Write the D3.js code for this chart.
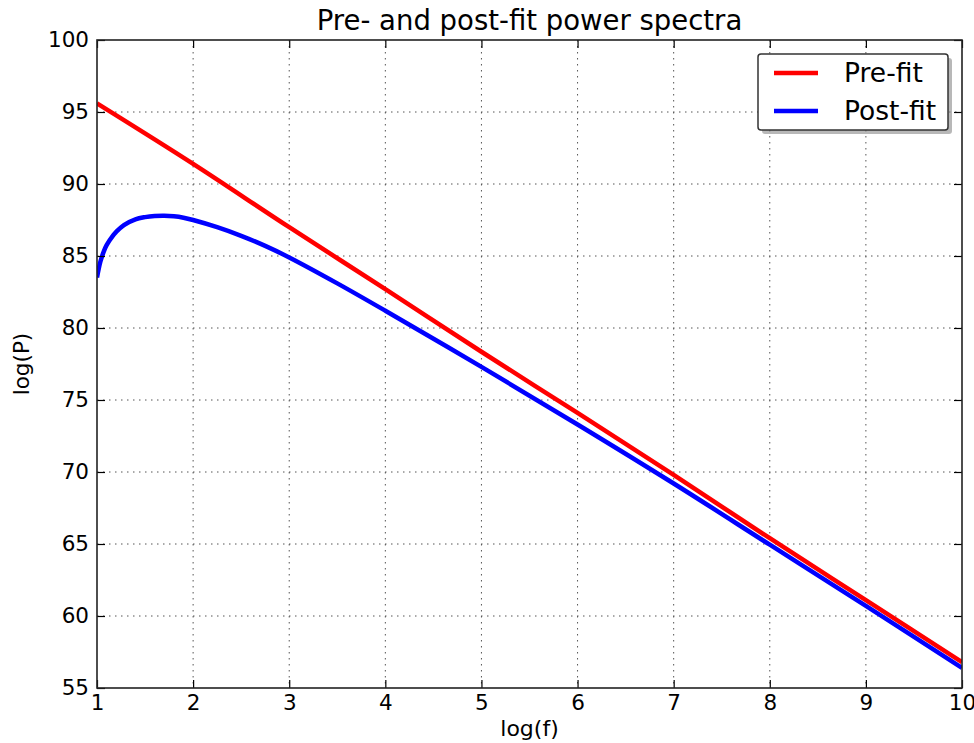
<!DOCTYPE html>
<html>
<head>
<meta charset="utf-8">
<script src="https://cdn.jsdelivr.net/npm/d3@7"></script>
<style>
  body { margin: 0; background: #fff; }
  text { font-family: "DejaVu Sans", sans-serif; fill: #000; }
</style>
</head>
<body>
<svg id="chart"></svg>
<script>
// values
const preF = [1, 2, 3, 4, 5, 6, 7, 8, 9, 10];
const preP = [95.6, 91.4, 87.0, 82.7, 78.35, 74.1, 69.8, 65.4, 61.1, 56.8];

const postF = [1.0, 1.035, 1.07, 1.1, 1.17, 1.2, 1.28, 1.4, 1.5, 1.6, 1.7, 1.8, 1.9, 2.0, 2.25, 2.5, 2.75, 3.0, 3.5, 4.0, 5.0, 6.0, 7.0, 8.0, 9.0, 10.0];
const postP = [83.5, 84.6, 85.3, 85.75, 86.45, 86.68, 87.15, 87.55, 87.7, 87.78, 87.8, 87.76, 87.66, 87.5, 87.0, 86.4, 85.7, 84.9, 83.1, 81.2, 77.3, 73.3, 69.2, 64.95, 60.7, 56.4];

const xTicks = [1, 2, 3, 4, 5, 6, 7, 8, 9, 10];
const yTicks = [55, 60, 65, 70, 75, 80, 85, 90, 95, 100];

const seriesNames = ["Pre-fit", "Post-fit"];
const seriesColors = ["#ff0000", "#0000ff"];

const width = 974;
const height = 743;
const margin = { top: 40, right: 12, bottom: 55, left: 97 };

const svg = d3.select("#chart")
    .attr("width", width)
    .attr("height", height);

const x = d3.scaleLinear().domain([1, 10]).range([margin.left, width - margin.right]);
const y = d3.scaleLinear().domain([55, 100]).range([height - margin.bottom, margin.top]);

const plotW = x(10) - x(1);
const plotH = y(55) - y(100);

// grid
const grid = svg.append("g").attr("class", "grid");
grid.selectAll(".gx")
    .data(xTicks.slice(1, -1))
    .enter()
    .append("line")
    .attr("x1", d => x(d)).attr("x2", d => x(d))
    .attr("y1", y(100)).attr("y2", y(55))
    .attr("stroke", "#555")
    .attr("stroke-width", 1)
    .attr("stroke-dasharray", "1.5,4.5");
grid.selectAll(".gy")
    .data(yTicks.slice(1, -1))
    .enter()
    .append("line")
    .attr("x1", x(1)).attr("x2", x(10))
    .attr("y1", d => y(d)).attr("y2", d => y(d))
    .attr("stroke", "#555")
    .attr("stroke-width", 1)
    .attr("stroke-dasharray", "1.5,4.5");

// lines
const line = d3.line()
    .x(d => x(d[0]))
    .y(d => y(d[1]))
    .curve(d3.curveCatmullRom.alpha(0.5));

svg.append("clipPath").attr("id", "clip")
    .append("rect")
    .attr("x", x(1)).attr("y", y(100))
    .attr("width", plotW).attr("height", plotH);

const plot = svg.append("g").attr("clip-path", "url(#clip)");

plot.append("path")
    .datum(d3.zip(preF, preP))
    .attr("fill", "none")
    .attr("stroke", seriesColors[0])
    .attr("stroke-width", 4.5)
    .attr("d", line);

plot.append("path")
    .datum(d3.zip(postF, postP))
    .attr("fill", "none")
    .attr("stroke", seriesColors[1])
    .attr("stroke-width", 4.5)
    .attr("d", line);

// axes (ticks inside, on all four sides)
const tickLen = 8;
svg.append("g")
    .attr("transform", `translate(0,${y(55)})`)
    .call(d3.axisBottom(x).tickValues(xTicks).tickSizeInner(-tickLen).tickSizeOuter(0).tickPadding(7))
    .call(g => g.selectAll("text").style("font-size", "21.5px"));
svg.append("g")
    .attr("transform", `translate(0,${y(100)})`)
    .call(d3.axisTop(x).tickValues(xTicks).tickSizeInner(-tickLen).tickSizeOuter(0).tickFormat(""));
svg.append("g")
    .attr("transform", `translate(${x(1)},0)`)
    .call(d3.axisLeft(y).tickValues(yTicks).tickSizeInner(-tickLen).tickSizeOuter(0).tickPadding(8))
    .call(g => g.selectAll("text").style("font-size", "21.5px"));
svg.append("g")
    .attr("transform", `translate(${x(10)},0)`)
    .call(d3.axisRight(y).tickValues(yTicks).tickSizeInner(-tickLen).tickSizeOuter(0).tickFormat(""));

svg.selectAll(".domain").remove();
svg.selectAll(".tick line").attr("stroke", "#000").attr("stroke-width", 1.2);

// frame
svg.append("rect")
    .attr("x", x(1)).attr("y", y(100))
    .attr("width", plotW).attr("height", plotH)
    .attr("fill", "none")
    .attr("stroke", "#222")
    .attr("stroke-width", 1.6);

// title and labels
svg.append("text")
    .attr("x", (x(1) + x(10)) / 2)
    .attr("y", 30)
    .attr("text-anchor", "middle")
    .style("font-size", "27.5px")
    .text("Pre- and post-fit power spectra");

svg.append("text")
    .attr("x", (x(1) + x(10)) / 2)
    .attr("y", 736)
    .attr("text-anchor", "middle")
    .style("font-size", "22px")
    .text("log(f)");

svg.append("text")
    .attr("transform", `translate(29,${(y(55) + y(100)) / 2}) rotate(-90)`)
    .attr("text-anchor", "middle")
    .style("font-size", "21.5px")
    .text("log(P)");

// legend
const legend = svg.append("g").attr("transform", "translate(758,54)");
legend.append("rect")
    .attr("x", 4).attr("y", 4)
    .attr("width", 190).attr("height", 76)
    .attr("rx", 3)
    .attr("fill", "#888")
    .attr("opacity", 0.6);
legend.append("rect")
    .attr("width", 190).attr("height", 76)
    .attr("rx", 3)
    .attr("fill", "#fff")
    .attr("stroke", "#333")
    .attr("stroke-width", 1.5);

const items = legend.selectAll(".item")
    .data(seriesNames)
    .enter()
    .append("g")
    .attr("transform", (d, i) => `translate(0,${19 + i * 38})`);
items.append("line")
    .attr("x1", 16).attr("x2", 60)
    .attr("stroke", (d, i) => seriesColors[i])
    .attr("stroke-width", 4.5);
items.append("text")
    .attr("x", 86)
    .attr("dy", "0.35em")
    .style("font-size", "26.5px")
    .text(d => d);
</script>
</body>
</html>
